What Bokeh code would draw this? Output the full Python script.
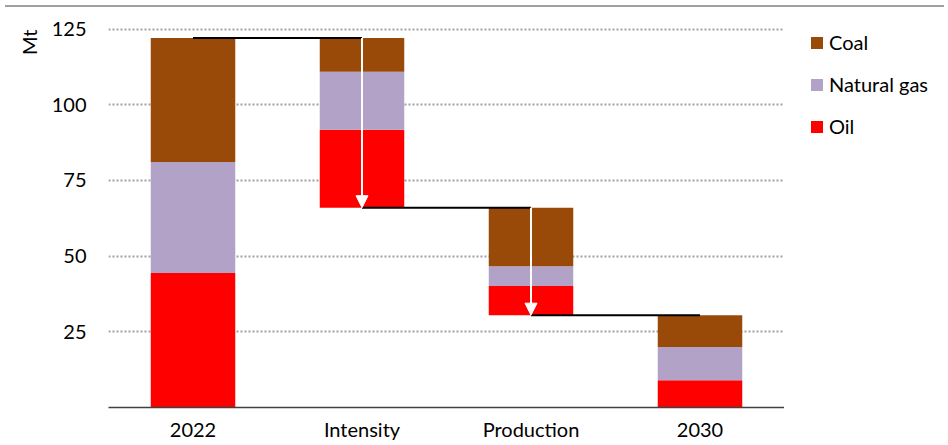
from bokeh.plotting import figure
from bokeh.models import (ColumnDataSource, FactorRange, Range1d, FixedTicker, Legend,
                          LegendItem, Arrow, NormalHead, Title, Div)
from bokeh.layouts import column, row
from bokeh.embed import file_html
from bokeh.resources import INLINE

# ---- data (Mt) ----
categories = ["2022", "Intensity", "Production", "2030"]
oil = [44.4, 25.8, 9.6, 9.0]
natural_gas = [36.7, 19.1, 6.6, 11.0]
coal = [41.0, 11.2, 19.3, 10.5]
y_ticks = [25, 50, 75, 100, 125]
series_names = ["Coal", "Natural gas", "Oil"]
series_colors = ["#9A4A08", "#B3A2C7", "#FF0000"]

# ---- waterfall geometry derived from data ----
totals = [o + g + c for o, g, c in zip(oil, natural_gas, coal)]
base = [0.0] * len(categories)
levels = [totals[0]]
for i in (1, 2):
    base[i] = levels[-1] - totals[i]
    levels.append(base[i])

oil_top = [b + o for b, o in zip(base, oil)]
gas_top = [t + g for t, g in zip(oil_top, natural_gas)]
coal_top = [t + c for t, c in zip(gas_top, coal)]

src = ColumnDataSource(dict(x=categories, base=base, oil_top=oil_top,
                            gas_top=gas_top, coal_top=coal_top))

FONT = "Lato"
H = 431

p = figure(x_range=FactorRange(*categories, range_padding=0),
           y_range=Range1d(0, 130.5), title=None,
           width=784, height=H, output_backend="svg", toolbar_location=None,
           min_border_left=108, min_border_right=0, min_border_top=0,
           min_border_bottom=35)
p.outline_line_color = None
p.background_fill_color = "white"
p.border_fill_color = "white"

p.xgrid.grid_line_color = None
p.ygrid.ticker = FixedTicker(ticks=y_ticks)
p.ygrid.grid_line_color = "#A0A0A0"
p.ygrid.grid_line_width = 2
p.ygrid.grid_line_dash = "2 2"

p.yaxis.ticker = FixedTicker(ticks=y_ticks)
p.yaxis.axis_line_color = None
p.yaxis.major_tick_line_color = None
p.yaxis.minor_tick_line_color = None
p.yaxis.major_tick_out = 0
p.yaxis.major_tick_in = 0
p.yaxis.major_label_standoff = 22
p.yaxis.major_label_text_font = FONT
p.yaxis.major_label_text_font_size = "20px"
p.yaxis.major_label_text_color = "black"

p.xaxis.axis_line_color = "#404040"
p.xaxis.axis_line_width = 1.5
p.xaxis.major_tick_line_color = None
p.xaxis.minor_tick_line_color = None
p.xaxis.major_tick_out = 0
p.xaxis.major_tick_in = 0
p.xaxis.major_label_standoff = 9
p.xaxis.major_label_text_font = FONT
p.xaxis.major_label_text_font_size = "20px"
p.xaxis.major_label_text_color = "black"

r_oil = p.vbar(x="x", bottom="base", top="oil_top", width=0.5, source=src,
               fill_color=series_colors[2], line_color=None)
r_gas = p.vbar(x="x", bottom="oil_top", top="gas_top", width=0.5, source=src,
               fill_color=series_colors[1], line_color=None)
r_coal = p.vbar(x="x", bottom="gas_top", top="coal_top", width=0.5, source=src,
                fill_color=series_colors[0], line_color=None)

# connectors
p.segment(x0=categories[:3], y0=levels, x1=categories[1:], y1=levels,
          line_color="black", line_width=2)

# white arrows on the change bars
for i in (1, 2):
    xc = i + 0.5
    p.add_layout(Arrow(x_start=xc, y_start=levels[i - 1], x_end=xc, y_end=levels[i],
                       line_color="white", line_width=2,
                       end=NormalHead(size=12, fill_color="white", line_color="white",
                                      line_width=1)))

# axis title at the top of the axis
p.add_layout(Title(text="Mt", align="right", offset=17, standoff=15,
                   text_font=FONT, text_font_size="20px", text_font_style="normal",
                   text_color="black"), "left")

# ---- legend panel (swatches use off-range dummy bars) ----
pl = figure(width=155, height=H, x_range=Range1d(0, 1), y_range=Range1d(0, 1),
            x_axis_type=None, y_axis_type=None, toolbar_location=None, title=None,
            output_backend="svg", min_border=0)
pl.outline_line_color = None
pl.background_fill_color = "white"
pl.border_fill_color = "white"
leg_renderers = [pl.vbar(x=[5], bottom=[4], top=[5], width=0.5, fill_color=c,
                         line_color=None)
                 for c in series_colors]
legend = Legend(items=[LegendItem(label=n, renderers=[r])
                       for n, r in zip(series_names, leg_renderers)],
                location=(25, 269), padding=0, margin=0, spacing=18,
                glyph_width=15, glyph_height=15, label_height=23,
                label_standoff=5, label_text_font=FONT, label_text_font_size="20px",
                label_text_color="black", border_line_color=None,
                background_fill_alpha=0)
pl.add_layout(legend, "center")

top_rule = Div(width=939, height=2, styles={"background-color": "#A0A0A0"})
layout = column(top_rule, row(p, pl, spacing=0), spacing=0)

open("out.html", "w").write(file_html(layout, INLINE))
